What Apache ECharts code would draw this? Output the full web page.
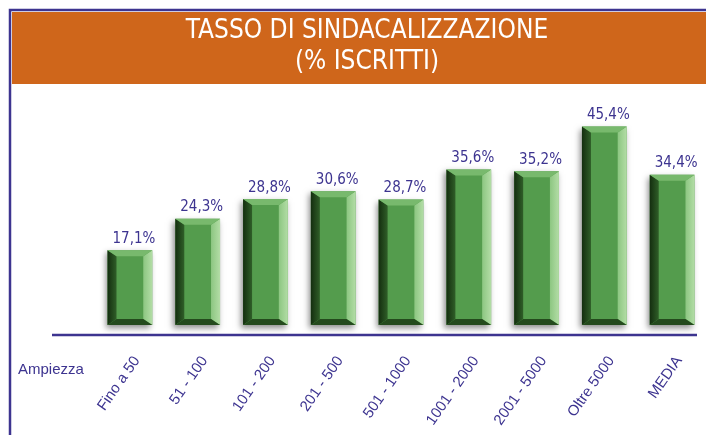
<!DOCTYPE html>
<html>
<head>
<meta charset="utf-8">
<script src="https://cdn.jsdelivr.net/npm/echarts@6/dist/echarts.min.js"></script>
<style>
  html, body { margin: 0; padding: 0; background: #fff; }
  #chart { width: 706px; height: 435px; }
</style>
</head>
<body>
<div id="chart"></div>
<script>
// categorie (ampiezza) e valori
var categories = ['Fino a 50', '51 - 100', '101 - 200', '201 - 500', '501 - 1000', '1001 - 2000', '2001 - 5000', 'Oltre 5000', 'MEDIA'];
var values = [17.1, 24.3, 28.8, 30.6, 28.7, 35.6, 35.2, 45.4, 34.4];

var purple = '#3d3490';
var orange = '#cf661b';
var fontFam = '"Liberation Sans Narrow", "DejaVu Sans Condensed", sans-serif';
var labFam = '"Liberation Sans", Arial, sans-serif';

var myChart = echarts.init(document.getElementById('chart'));

// barra "3D" con smussature + etichette
function renderBar(params, api) {
  var top = api.coord([api.value(0), api.value(1)]);
  var base = api.coord([api.value(0), 0]);
  var w = api.size([1, 0])[0] * 0.66;
  var x0 = top[0] - w / 2, x1 = top[0] + w / 2, y0 = top[1], y1 = base[1];
  var s = 9, t = 6;
  var label = api.value(1).toFixed(1).replace('.', ',') + '%';
  return {
    type: 'group',
    children: [
      { type: 'rect', shape: { x: x0, y: y0, width: w, height: y1 - y0 },
        style: { fill: '#549c4d', shadowBlur: 6, shadowColor: 'rgba(0,0,0,0.45)', shadowOffsetX: -2, shadowOffsetY: 3 } },
      { type: 'polygon', shape: { points: [[x0, y0], [x0 + s, y0 + t], [x0 + s, y1 - t], [x0, y1]] },
        style: { fill: new echarts.graphic.LinearGradient(0, 0, 1, 0, [{ offset: 0, color: '#142e0f' }, { offset: 1, color: '#2f5e28' }]) } },
      { type: 'polygon', shape: { points: [[x1, y0], [x1, y1], [x1 - s, y1 - t], [x1 - s, y0 + t]] },
        style: { fill: new echarts.graphic.LinearGradient(0, 0, 1, 0, [{ offset: 0, color: '#8cc681' }, { offset: 1, color: '#b3dda6' }]) } },
      { type: 'polygon', shape: { points: [[x0, y0], [x1, y0], [x1 - s, y0 + t], [x0 + s, y0 + t]] },
        style: { fill: '#78b96d' } },
      { type: 'polygon', shape: { points: [[x0, y1], [x0 + s, y1 - t], [x1 - s, y1 - t], [x1, y1]] },
        style: { fill: '#244a1d' } },
      { type: 'text', x: top[0] + 4, y: y0 - 4,
        style: { text: label, align: 'center', verticalAlign: 'bottom', fill: purple, font: '15px ' + fontFam } },
      // etichetta categoria ruotata
      { type: 'text', x: top[0] + 7, y: base[1] + 33, rotation: 55 * Math.PI / 180,
        style: { text: categories[params.dataIndex], align: 'right', verticalAlign: 'middle', fill: purple, font: '15px ' + labFam } }
    ]
  };
}

var option = {
  animation: false,
  title: {
    text: 'TASSO DI SINDACALIZZAZIONE\n(% ISCRITTI)',
    left: 362, top: 11, textAlign: 'center',
    textStyle: { color: '#fff', fontSize: 26, fontWeight: 'normal', fontFamily: fontFam, lineHeight: 31 }
  },
  graphic: [
    { type: 'rect', z: -10, shape: { x: 10, y: 10, width: 710, height: 440 }, style: { fill: '#fff', stroke: purple, lineWidth: 2.5 } },
    { type: 'rect', z: -9, shape: { x: 12, y: 12, width: 700, height: 72 }, style: { fill: orange } },
    { type: 'line', shape: { x1: 52, y1: 335, x2: 697, y2: 335 }, style: { stroke: purple, lineWidth: 2.5 } },
    { type: 'text', left: 18, top: 362, style: { text: 'Ampiezza', fill: purple, font: '15px ' + labFam } }
  ],
  grid: { left: 96, top: 106.5, width: 611, height: 228.5 },
  xAxis: {
    type: 'category',
    data: categories,
    axisLine: { show: false },
    axisTick: { show: false },
    axisLabel: { show: false }
  },
  yAxis: {
    type: 'value', min: -2.3, max: 50,
    show: false
  },
  series: [{
    type: 'custom',
    clip: false,
    renderItem: renderBar,
    data: values.map(function (v, i) { return [i, v]; })
  }]
};
myChart.setOption(option);
</script>
</body>
</html>
